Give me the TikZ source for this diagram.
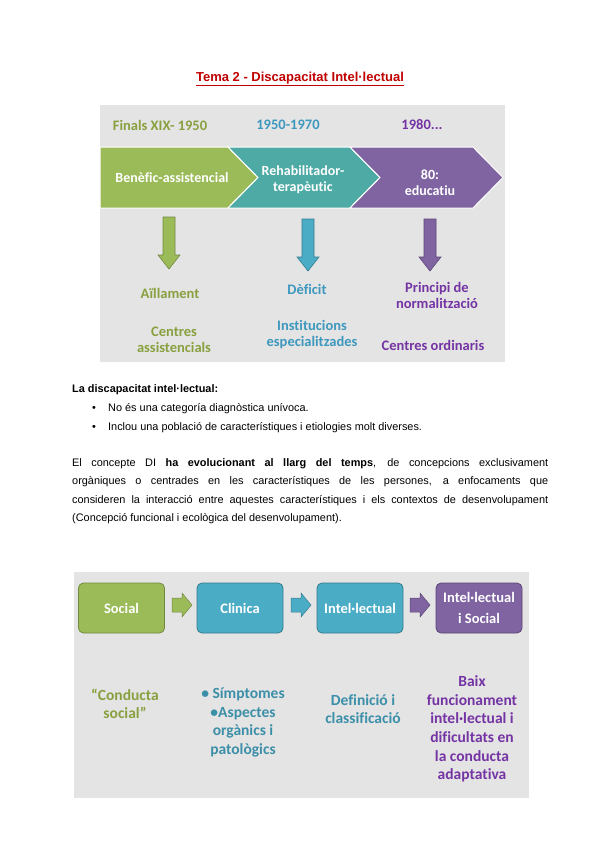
\documentclass[tikz,border=0pt]{standalone}
\usepackage{fontspec}
\setmainfont{Liberation Sans}
\newfontfamily\calfont[Ligatures=NoCommon]{Carlito}
\definecolor{bggray}{HTML}{E4E4E4}
\definecolor{cgreen}{HTML}{9BBB59}
\definecolor{cgreenD}{HTML}{71893F}
\definecolor{cteal}{HTML}{4DAAA5}
\definecolor{cblue}{HTML}{4BACC6}
\definecolor{cblueD}{HTML}{357D91}
\definecolor{cpurple}{HTML}{8064A2}
\definecolor{cpurpleD}{HTML}{5C4776}
\definecolor{tgreen}{HTML}{89A03F}
\definecolor{tblue}{HTML}{3E98BE}
\definecolor{tteal}{HTML}{3C8FA8}
\definecolor{tpurple}{HTML}{7434A4}
\definecolor{tred}{HTML}{C00000}
\tikzset{
  title/.style={font=\fontsize{13}{15}\selectfont\bfseries, text=tred, inner sep=0},
  body/.style={font=\fontsize{10.9}{13}\selectfont, inner sep=0, anchor=base west},
  yearlbl/.style={font=\calfont\bfseries\fontsize{14.5}{17}\selectfont, inner sep=0},
  chevtxt/.style={font=\calfont\bfseries\fontsize{14}{16}\selectfont, text=white, align=center, inner sep=0},
  toplbl/.style={font=\calfont\bfseries\fontsize{14.5}{16}\selectfont, align=center, inner sep=0},
  boxstyle/.style={rounded corners=5pt, minimum width=86pt, minimum height=50pt, line width=0.8pt,
     font=\calfont\bfseries\fontsize{14.5}{21}\selectfont, text=white, align=center, inner sep=0},
  botlbl/.style={font=\calfont\bfseries\fontsize{15.5}{18.6}\selectfont, align=center, inner sep=0},
  darr/.pic={\path[pic actions] (-6,0) -- (6,0) -- (6,38) -- (11,38) -- (0,52) -- (-11,38) -- (-6,38) -- cycle;},
  rarr/.pic={\path[pic actions] (0,-7) -- (10,-7) -- (10,-12) -- (20,0) -- (10,12) -- (10,7) -- (0,7) -- cycle;}
}
\begin{document}
\begin{tikzpicture}[x=1pt,y=-1pt]
\useasboundingbox[fill=white] (0,0) rectangle (600,848);
% title
\node[title] (title) at (300,79) {\underline{Tema 2 - Discapacitat Intel·lectual}};
% top diagram
\fill[bggray] (100,105) rectangle (505,362);
\node[yearlbl, text=tgreen] (y1) at (160,125) {Finals XIX- 1950};
\node[yearlbl, text=tblue] (y2) at (288,125) {1950-1970};
\node[yearlbl, text=tpurple] (y3) at (422,125) {1980...};
\draw[fill=cgreen, draw=white, line width=1pt] (100,147) -- (228,147) -- (258,177.5) -- (228,208) -- (100,208) -- cycle;
\draw[fill=cteal, draw=white, line width=1pt] (228,147) -- (350,147) -- (380,177.5) -- (350,208) -- (228,208) -- (258,177.5) -- cycle;
\draw[fill=cpurple, draw=white, line width=1pt] (350,147) -- (473,147) -- (503,177.5) -- (473,208) -- (350,208) -- (380,177.5) -- cycle;
\node[chevtxt] (c1) at (172,178) {Benèfic-assistencial};
\node[chevtxt] (c2) at (303,180) {Rehabilitador-\\terapèutic};
\node[chevtxt] (c3) at (430,183) {80:\\educatiu};
\pic[fill=cgreen, draw=cgreenD, line width=0.6pt] at (169,217) {darr};
\pic[fill=cblue, draw=cblueD, line width=0.6pt] at (308,219) {darr};
\pic[fill=cpurple, draw=cpurpleD, line width=0.6pt] at (430,219) {darr};
\node[toplbl, text=tgreen] (l1) at (170,293) {Aïllament};
\node[toplbl, text=tblue] (l2) at (307,289) {Dèficit};
\node[toplbl, text=tpurple] (l3) at (437,295) {Principi de\\normalització};
\node[toplbl, text=tgreen] (m1) at (174,340) {Centres\\assistencials};
\node[toplbl, text=tblue] (m2) at (312,335) {Institucions\\especialitzades};
\node[toplbl, text=tpurple] (m3) at (433,345) {Centres ordinaris};
% text block
\node[body] (h) at (72,392) {\textbf{La discapacitat intel·lectual:}};
\node[body] (b1) at (92,411) {\textbullet};
\node[body] (t1) at (108,411) {No és una categoría diagnòstica unívoca.};
\node[body] (b2) at (92,430) {\textbullet};
\node[body] (t2) at (108,430) {Inclou una població de característiques i etiologies molt diverses.};
\node[body] (p1) at (72,466) {\makebox[476pt][s]{El concepte DI \textbf{ha evolucionant al llarg del temps}, de concepcions exclusivament}};
\node[body] (p2) at (72,484.5) {\makebox[476pt][s]{orgàniques o centrades en les característiques de les persones, a enfocaments que}};
\node[body] (p3) at (72,503) {\makebox[476pt][s]{consideren la interacció entre aquestes característiques i els contextos de desenvolupament}};
\node[body] (p4) at (72,521.5) {(Concepció funcional i ecològica del desenvolupament).};
% bottom diagram
\fill[bggray] (74,572) rectangle (529,798);
\node[boxstyle, fill=cgreen, draw=cgreenD] (s) at (121.5,608) {Social};
\node[boxstyle, fill=cblue, draw=cblueD] (c) at (240,608) {Clinica};
\node[boxstyle, fill=cblue, draw=cblueD] (i) at (360,608) {Intel·lectual};
\node[boxstyle, fill=cpurple, draw=cpurpleD] (is) at (479,608) {Intel·lectual\\i Social};
\pic[fill=cgreen, draw=cgreenD, line width=0.5pt] at (172,605) {rarr};
\pic[fill=cblue, draw=cblueD, line width=0.5pt] at (291,605) {rarr};
\pic[fill=cpurple, draw=cpurpleD, line width=0.5pt] at (410,605) {rarr};
\node[botlbl, text=tgreen] (bl1) at (125,704) {“Conducta\\social”};
\node[botlbl, text=tteal] (bl2) at (243,722.5) {• Símptomes\\•Aspectes\\orgànics i\\patològics};
\node[botlbl, text=tteal] (bl3) at (363,709) {Definició i\\classificació};
\node[botlbl, text=tpurple] (bl4) at (472,729) {Baix\\funcionament\\intel·lectual i\\dificultats en\\la conducta\\adaptativa};
\end{tikzpicture}
\end{document}
